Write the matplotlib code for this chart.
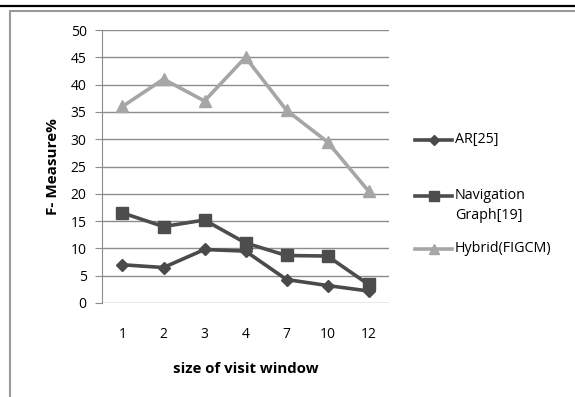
import matplotlib.pyplot as plt
from matplotlib.lines import Line2D
from matplotlib.patches import Rectangle

window_sizes = ["1", "2", "3", "4", "7", "10", "12"]
ar_25 = [7.0, 6.5, 9.8, 9.5, 4.3, 3.2, 2.2]
nav_graph_19 = [16.5, 14.0, 15.2, 11.0, 8.7, 8.6, 3.4]
hybrid_figcm = [36.0, 41.0, 37.0, 45.0, 35.3, 29.5, 20.5]

series_labels = ["AR[25]", "Navigation\nGraph[19]", "Hybrid(FIGCM)"]

plt.rcParams["font.family"] = ["Open Sans", "DejaVu Sans"]

W, H = 575, 397
fig = plt.figure(figsize=(W / 100, H / 100), dpi=100)

# outer frame: black rule at the top and a grey box
fig.add_artist(Line2D([0, 1], [1 - 6 / H, 1 - 6 / H], color="black", lw=1.6,
                      transform=fig.transFigure))
fig.add_artist(Rectangle((9.5 / W, -0.05), 1.2, 1 - 10.5 / H + 0.05, transform=fig.transFigure,
                         fill=False, edgecolor="#9a9a9a", lw=1.5))

ax = fig.add_axes([102 / W, 1 - 303 / H, (389 - 102) / W, (303 - 30) / H])
x = range(len(window_sizes))

styles = [
    dict(color="#4a4a4a", marker="D", ms=6.5),
    dict(color="#4d4d4d", marker="s", ms=9),
    dict(color="#a6a6a6", marker="^", ms=9),
]
for vals, st in zip([ar_25, nav_graph_19, hybrid_figcm], styles):
    ax.plot(x, vals, lw=2.6, **st)

ax.set_xlim(-0.5, len(window_sizes) - 0.5)
ax.set_ylim(0, 50)
ax.set_yticks(range(0, 51, 5))
ax.set_xticks(list(x))
ax.set_xticklabels(window_sizes)
ax.yaxis.grid(True, color="#8c8c8c", lw=1.0)
ax.set_axisbelow(True)
for s in ["top", "right", "bottom"]:
    ax.spines[s].set_visible(False)
ax.spines["left"].set_color("#8c8c8c")
ax.tick_params(axis="y", length=5, color="#8c8c8c", labelsize=10, pad=6)
ax.tick_params(axis="x", length=0, labelsize=10, pad=17)

ax.set_ylabel("F- Measure%", fontsize=11, fontweight="bold", labelpad=8)
ax.set_xlabel("size of visit window", fontsize=10.8, fontweight="bold", labelpad=15)

# legend drawn at the right, handle aligned with the first text line
leg_y = [140, 196, 249]
for lab, st, yy in zip(series_labels, styles, leg_y):
    yf = 1 - yy / H
    ms = st["ms"] * 0.8
    fig.add_artist(Line2D([415 / W, 452 / W], [yf, yf], lw=2.6, color=st["color"],
                          transform=fig.transFigure))
    fig.add_artist(Line2D([433.5 / W], [yf], lw=0, color=st["color"], marker=st["marker"],
                          ms=ms, transform=fig.transFigure))
    fig.text(455 / W, yf + 8 / H, lab, fontsize=10.3, va="top", ha="left",
             transform=fig.transFigure, linespacing=1.45)

fig.savefig("out.png", dpi=100)
